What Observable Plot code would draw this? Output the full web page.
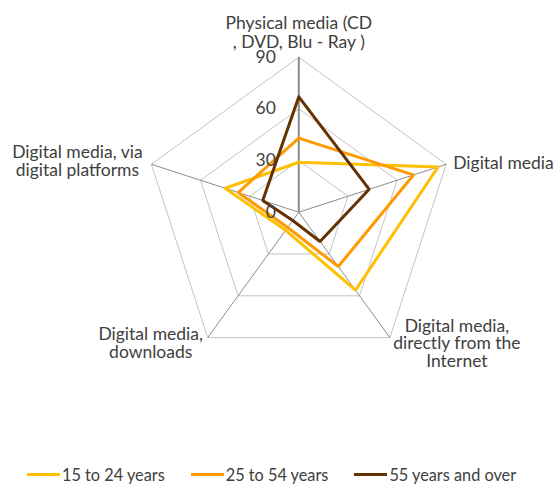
<!DOCTYPE html>
<html>
<head>
<meta charset="utf-8">
<script src="https://cdn.jsdelivr.net/npm/d3@7"></script>
<script src="https://cdn.jsdelivr.net/npm/@observablehq/plot@0.6"></script>
<style>
  body { margin: 0; background: #fff; font-family: Lato, "Open Sans", sans-serif; }
  #legend { display: flex; align-items: center; padding-left: 27px; padding-top: 8px; height: 20px; gap: 26px; font-size: 16.3px; color: #404040; }
  .item { display: flex; align-items: center; }
  .sw { width: 33px; height: 3px; margin-right: 2px; }
</style>
</head>
<body>
<div id="chart"></div>
<div id="legend"></div>
<script>
const axisLabels = [
  "Physical media (CD\n, DVD, Blu - Ray )",
  "Digital media",
  "Digital media,\ndirectly from the\nInternet",
  "Digital media,\ndownloads",
  "Digital media, via\ndigital platforms"
];
const seriesNames = ["15 to 24 years", "25 to 54 years", "55 years and over"];
const values15to24 = [29, 85, 56, 13, 45];
const values25to54 = [43, 70, 39, 11, 37];
const values55plus = [67, 43, 21, 6, 22];
const tickValues = [0, 30, 60, 90];
const colors = ["#FFC000", "#FF9A00", "#633200"];

const maxV = 90;
const ang = i => (Math.PI / 2) - i * 2 * Math.PI / axisLabels.length;
const px = (v, i) => v * Math.cos(ang(i));
const py = (v, i) => v * Math.sin(ang(i));

const seriesVals = [values15to24, values25to54, values55plus];
const lineData = seriesNames.flatMap((s, k) =>
  [0, 1, 2, 3, 4, 0].map(i => ({series: s, x: px(seriesVals[k][i], i), y: py(seriesVals[k][i], i)}))
);
const gridData = tickValues.filter(t => t > 0).flatMap(t =>
  [0, 1, 2, 3, 4, 0].map(i => ({t, x: px(t, i), y: py(t, i)}))
);
const spokes = axisLabels.map((l, i) => ({i, x2: px(maxV, i), y2: py(maxV, i)}));
const labelData = axisLabels.map((l, i) => ({label: l, x: px(maxV, i), y: py(maxV, i)}));
const labelOpts = [
  {textAnchor: "middle", dx: 0, dy: -25, lineHeight: 1.09},
  {textAnchor: "start", dx: 7, dy: -1, lineHeight: 1.0},
  {textAnchor: "middle", dx: 67, dy: 6, lineHeight: 1.0},
  {textAnchor: "middle", dx: -57, dy: 6, lineHeight: 1.0},
  {textAnchor: "middle", dx: -74, dy: -3, lineHeight: 1.02}
];

const chart = Plot.plot({
  width: 560,
  height: 456,
  margin: 0,
  x: {domain: [-maxV, maxV], range: [298.3 - 155, 298.3 + 155], axis: null},
  y: {domain: [-maxV, maxV], range: [211.7 + 155, 211.7 - 155], axis: null},
  color: {domain: seriesNames, range: colors},
  style: {fontFamily: "Lato, 'Open Sans', sans-serif", fontSize: "17.5px", color: "#404040", background: "#fff"},
  marks: [
    Plot.line(gridData, {x: "x", y: "y", z: "t", stroke: "#a8a8a8", strokeWidth: 0.8, strokeDasharray: "1,1"}),
    Plot.link(spokes, {x1: 0, y1: 0, x2: "x2", y2: "y2", stroke: "#8c8c8c", strokeWidth: d => d.i === 0 ? 2 : 1}),
    Plot.line(lineData, {x: "x", y: "y", z: "series", stroke: "series", strokeWidth: 3, strokeLinejoin: "miter", curve: "linear"}),
    ...labelData.map((d, i) => Plot.text([d], {x: "x", y: "y", text: "label", fill: "#404040", fontSize: 17.5, lineAnchor: "middle", ...labelOpts[i]})),
    Plot.text(tickValues, {x: 0, y: d => d, text: d => String(d), textAnchor: "end", dx: -23, fill: "#404040", fontSize: 17.5})
  ]
});
document.getElementById("chart").appendChild(chart);

const legend = document.getElementById("legend");
seriesNames.forEach((s, k) => {
  const item = document.createElement("div");
  item.className = "item";
  const sw = document.createElement("div");
  sw.className = "sw";
  sw.style.background = colors[k];
  const tx = document.createElement("span");
  tx.textContent = s;
  item.appendChild(sw);
  item.appendChild(tx);
  legend.appendChild(item);
});
</script>
</body>
</html>
